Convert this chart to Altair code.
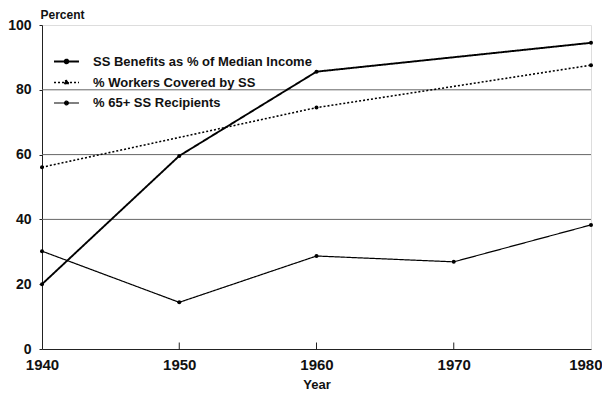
import altair as alt
import pandas as pd

years = [1940, 1950, 1960, 1970, 1980]
series_names = ["SS Benefits as % of Median Income", "% Workers Covered by SS", "% 65+ SS Recipients"]
benefits = [20.0, 59.6, 85.6, None, 94.5]
workers = [56.1, None, 74.5, None, 87.6]
recipients = [30.2, 14.4, 28.7, 26.9, 38.3]
y_ticks = [0, 20, 40, 60, 80, 100]
grid_values = [40, 60, 80]
inner_ticks = [1950, 1960, 1970]

rows = []
for name, vals in zip(series_names, [benefits, workers, recipients]):
    for yr, v in zip(years, vals):
        if v is not None:
            rows.append({"Year": yr, "Value": v, "Series": name})
df = pd.DataFrame(rows)

FONT = "Liberation Sans"
x_scale = alt.Scale(domain=[1940, 1980], nice=False, zero=False)
y_scale = alt.Scale(domain=[0, 100], nice=False)

x_enc = alt.X("Year:Q", scale=x_scale,
              axis=alt.Axis(values=years, format="d", title="Year", labelFont=FONT,
                            labelFontWeight="bold", labelFontSize=15, labelPadding=8,
                            labelAlign=alt.ExprRef(expr="datum.value === 1980 ? 'right' : 'center'"),
                            labelOffset=alt.ExprRef(expr="datum.value === 1980 ? 11 : 0"),
                            tickSize=0, grid=False, domainColor="#222", titleFont=FONT,
                            titleFontWeight="bold", titleFontSize=13, titlePadding=6,
                            labelFlush=False, labelColor="#111", titleColor="#111"))
y_enc = alt.Y("Value:Q", scale=y_scale,
              axis=alt.Axis(values=y_ticks, title="Percent", titleAngle=0, titleAlign="left",
                            titleBaseline="alphabetic", titleX=-2, titleY=-7,
                            titleFont=FONT, titleFontWeight="bold", titleFontSize=12,
                            labelFont=FONT, labelFontWeight="bold", labelFontSize=14,
                            labelPadding=8, tickSize=3, tickColor="#222", grid=False,
                            domainColor="#222", labelColor="#111", titleColor="#111"))

dash_scale = alt.Scale(domain=series_names, range=[[1, 0], [2, 2], [1, 0]])
width_scale = alt.Scale(domain=series_names, range=[1.9, 1.2, 1.3])

legend = alt.Legend(title=None, orient="none", legendX=17, legendY=29, padding=0,
                    symbolType="M-2,0L2,0M-0.3,0A0.3,0.3,0,1,0,0.3,0A0.3,0.3,0,1,0,-0.3,0",
                    symbolSize=156, symbolStrokeColor="black", symbolFillColor="black",
                    labelFont=FONT, labelFontWeight="bold", labelFontSize=13,
                    labelOffset=19, rowPadding=6, labelColor="#111", labelLimit=400)

lines = alt.Chart(df).mark_line(color="black").encode(
    x=x_enc, y=y_enc,
    strokeDash=alt.StrokeDash("Series:N", scale=dash_scale, legend=legend, sort=series_names),
    strokeWidth=alt.StrokeWidth("Series:N", scale=width_scale, legend=legend, sort=series_names),
)

points = alt.Chart(df).mark_circle(color="black", size=16, opacity=1).encode(
    x=alt.X("Year:Q", scale=x_scale), y=alt.Y("Value:Q", scale=y_scale), detail="Series:N")

grid = alt.Chart(pd.DataFrame({"g": grid_values})).mark_rule(color="#666", strokeWidth=1).encode(
    y=alt.Y("g:Q", scale=y_scale))

ticks = alt.Chart(pd.DataFrame({"t": inner_ticks, "y0": [0] * 3, "y1": [2] * 3})).mark_rule(
    color="#222", strokeWidth=1).encode(
    x=alt.X("t:Q", scale=x_scale), y=alt.Y("y0:Q", scale=y_scale), y2="y1:Q")

chart = alt.layer(grid, ticks, lines, points).properties(
    width=549, height=324,
    autosize=alt.AutoSizeParams(type="none"),
    padding={"left": 34, "top": 17, "right": 11, "bottom": 45},
).configure_view(stroke="#222", strokeWidth=1.2).configure(background="white")

chart.save("out.html", embed_options={"renderer": "svg", "actions": False})
